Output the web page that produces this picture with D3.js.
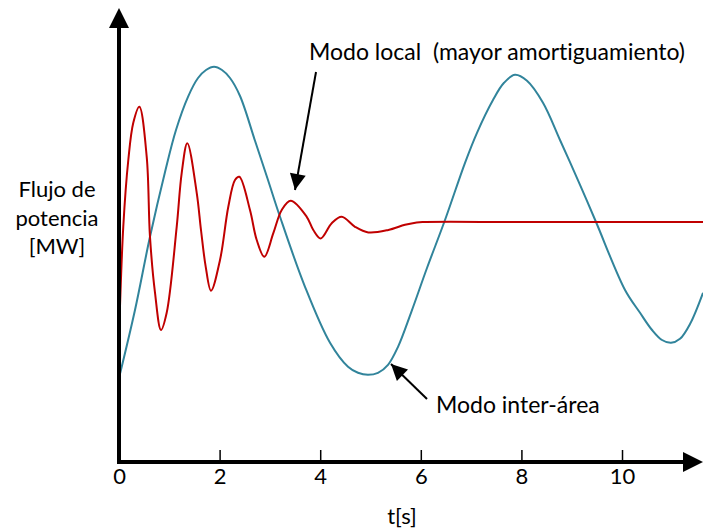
<!DOCTYPE html>
<html>
<head>
<meta charset="utf-8">
<script src="https://cdn.jsdelivr.net/npm/d3@7"></script>
<style>
  body { margin: 0; background: #fff; }
  svg text { font-family: Lato, "Open Sans", sans-serif; fill: #000; font-variant-ligatures: none; }
</style>
</head>
<body>
<div id="canvas"></div>
<script>
// valores (t en s, flujo en unidades arbitrarias)
const tInter = [0, 0.318, 0.616, 0.915, 1.133, 1.372, 1.571, 1.730, 1.889, 2.048, 2.207, 2.406, 2.704, 2.962, 3.201, 3.698, 4.195, 4.553, 4.751, 4.950, 5.149, 5.348, 5.547, 5.805, 6.123, 6.481, 6.879, 7.117, 7.435, 7.654, 7.873, 8.111, 8.429, 8.767, 9.165, 9.483, 10.060, 10.358, 10.597, 10.795, 10.974, 11.153, 11.352, 11.61];
const pInter = [21.0, 38.0, 56.3, 72.5, 83.0, 91.3, 96.0, 98.0, 98.8, 98.0, 96.0, 91.5, 80.3, 70.5, 61.3, 43.8, 29.8, 23.8, 22.3, 21.8, 22.3, 24.3, 28.8, 37.3, 48.5, 60.5, 74.8, 82.3, 90.5, 94.8, 96.8, 95.3, 89.8, 80.5, 69.3, 60.0, 43.0, 37.3, 33.0, 30.5, 29.8, 30.8, 34.5, 42.3];

const tLocal = [0, 0.085, 0.185, 0.284, 0.404, 0.551, 0.616, 0.716, 0.835, 0.948, 1.147, 1.247, 1.358, 1.545, 1.630, 1.724, 1.829, 2.008, 2.173, 2.306, 2.392, 2.604, 2.738, 2.889, 3.068, 3.235, 3.414, 3.732, 3.863, 4.010, 4.229, 4.427, 4.692, 4.956, 5.354, 5.686, 5.918, 6.083, 8.0, 11.61];
const pLocal = [31.3, 58.8, 75.5, 84.8, 88.8, 76.3, 56.3, 42.3, 33.0, 37.3, 58.8, 72.3, 79.7, 67.3, 58.0, 48.8, 42.8, 50.5, 63.8, 70.5, 71.3, 63.0, 55.5, 51.3, 57.2, 63.0, 65.3, 61.3, 58.0, 55.9, 59.7, 61.3, 58.8, 57.4, 58.0, 59.3, 59.9, 60.0, 60.0, 60.0];

const xTicks = [0, 2, 4, 6, 8, 10];
const yLabel = ["Flujo de", "potencia", "[MW]"];
const xLabel = "t[s]";
const labelLocal = "Modo local  (mayor amortiguamiento)";
const labelInter = "Modo inter-área";

const width = 703, height = 529;
const svg = d3.select("#canvas").append("svg")
    .attr("width", width)
    .attr("height", height);

const x = d3.scaleLinear().domain([0, 11.61]).range([119, 703]);
const y = d3.scaleLinear().domain([0, 113.5]).range([462, 8]);

const defs = svg.append("defs");
defs.append("marker")
    .attr("id", "head")
    .attr("viewBox", "0 0 10 10")
    .attr("refX", 10).attr("refY", 5)
    .attr("markerWidth", 17).attr("markerHeight", 16)
    .attr("markerUnits", "userSpaceOnUse")
    .attr("orient", "auto")
  .append("path").attr("d", "M0,0L10,5L0,10Z").attr("fill", "#000");

// curvas
const line = d3.line()
    .x(d => x(d[0]))
    .y(d => y(d[1]))
    .curve(d3.curveCatmullRom.alpha(0.5));

svg.append("path")
    .datum(tInter.map((t, i) => [t, pInter[i]]))
    .attr("d", line)
    .attr("fill", "none")
    .attr("stroke", "#31849B")
    .attr("stroke-width", 2);

svg.append("path")
    .datum(tLocal.map((t, i) => [t, pLocal[i]]))
    .attr("d", line)
    .attr("fill", "none")
    .attr("stroke", "#C00000")
    .attr("stroke-width", 2);

// eje x
const xAxis = svg.append("g")
    .attr("transform", `translate(0,${y(0)})`)
    .call(d3.axisBottom(x).tickValues(xTicks).tickSize(-12).tickPadding(6).tickFormat(d3.format("d")));
xAxis.select(".domain").remove();
xAxis.selectAll(".tick line").attr("stroke", "#000").attr("stroke-width", 1.5)
    .filter(d => d === 0).remove();
xAxis.selectAll(".tick text").attr("font-size", 22).attr("font-family", "Lato, sans-serif");

// ejes con flechas
const x0 = x(0), y0 = y(0);
const xEnd = x.range()[1], yEnd = y.range()[1];
svg.append("line")
    .attr("x1", x0 - 2).attr("y1", y0).attr("x2", xEnd - 18).attr("y2", y0)
    .attr("stroke", "#000").attr("stroke-width", 4);
svg.append("path")
    .attr("d", `M${xEnd},${y0}L${xEnd - 20},${y0 - 10}L${xEnd - 20},${y0 + 10}Z`)
    .attr("fill", "#000");
svg.append("line")
    .attr("x1", x0).attr("y1", y0 + 2).attr("x2", x0).attr("y2", yEnd + 18)
    .attr("stroke", "#000").attr("stroke-width", 4);
svg.append("path")
    .attr("d", `M${x0},${yEnd}L${x0 - 10},${yEnd + 20}L${x0 + 10},${yEnd + 20}Z`)
    .attr("fill", "#000");

// textos
svg.append("text")
    .attr("x", 402).attr("y", 524)
    .attr("text-anchor", "middle")
    .attr("font-size", 22)
    .text(xLabel);

svg.append("g").selectAll("text")
    .data(yLabel)
    .join("text")
    .attr("x", 57)
    .attr("y", (d, i) => 197 + i * 28.5)
    .attr("text-anchor", "middle")
    .attr("font-size", 22)
    .text(d => d);

svg.append("text")
    .attr("x", 309).attr("y", 60)
    .attr("font-size", 23)
    .style("white-space", "pre")
    .text(labelLocal);

svg.append("text")
    .attr("x", 436).attr("y", 413)
    .attr("font-size", 23)
    .text(labelInter);

// flechas de anotación
svg.append("line")
    .attr("x1", 316).attr("y1", 72).attr("x2", 295).attr("y2", 190)
    .attr("stroke", "#000").attr("stroke-width", 2)
    .attr("marker-end", "url(#head)");
svg.append("line")
    .attr("x1", 427).attr("y1", 399).attr("x2", 391).attr("y2", 364)
    .attr("stroke", "#000").attr("stroke-width", 2)
    .attr("marker-end", "url(#head)");
</script>
</body>
</html>
